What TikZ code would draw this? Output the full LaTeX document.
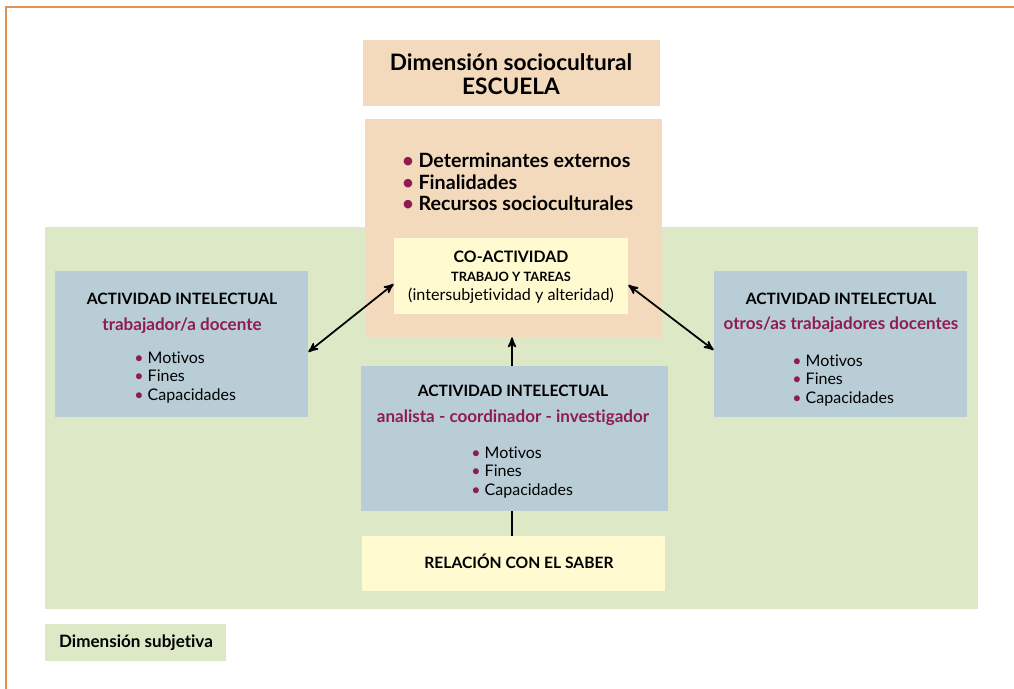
\documentclass[tikz,border=0pt]{standalone}
\usepackage{fontspec}
\setmainfont{Lato}[Ligatures=NoCommon]
\usetikzlibrary{arrows}
\definecolor{peach}{HTML}{F3DABD}
\definecolor{leaf}{HTML}{DDE9C6}
\definecolor{steel}{HTML}{B9CDD6}
\definecolor{cream}{HTML}{FFFAD0}
\definecolor{plum}{HTML}{8E1C53}
\definecolor{frame}{HTML}{E39250}
\newcommand{\bul}{\textcolor{plum}{\textbullet}~}
\tikzset{
    panel/.style={inner sep=0pt,anchor=center},
    size/.style n args={2}{minimum width={#1*0.02cm},minimum height={#2*0.02cm}},
    label/.style={inner sep=0pt,anchor=base},
    heading/.style={label,font=\fontsize{8.9}{10}\selectfont\bfseries},
    subhead/.style={label,font=\fontsize{9.7}{11}\selectfont\bfseries,text=plum},
    items/.style={anchor=north west,inner sep=0pt,align=left,font=\fontsize{9.1}{10.5}\selectfont},
    link/.style={<->,>=stealth',line width=1pt,black},
    uplink/.style={->,>=stealth',line width=1pt,black}
}
\begin{document}
\begin{tikzpicture}[x=0.02cm,y=-0.02cm]
\useasboundingbox (0,0) rectangle (1014,689);
% frame
\draw[frame,line width=1.1pt](1014,7)--(6,7)--(6,689);
% dimensions
\node[panel,fill=leaf,size={933}{382}](subj) at (511.5,418){};
\node[panel,fill=peach,size={297}{66}](escuela) at (511.5,73){};
\node[label,font=\fontsize{12.9}{14}\selectfont\bfseries](escuela1) at (511,71){Dimensión sociocultural};
\node[label,font=\fontsize{12.9}{14}\selectfont\bfseries](escuela2) at (511,95){ESCUELA};
\node[panel,fill=peach,size={297}{218}](socio) at (513.5,228){};
\node[items,font=\fontsize{11.2}{12.2}\selectfont\bfseries](fines) at (402,152.8){\bul Determinantes externos\\\bul Finalidades\\\bul Recursos socioculturales};
\node[panel,fill=cream,size={234}{76}](coact) at (511,276){};
\node[label,font=\fontsize{9}{10}\selectfont\bfseries](coact1) at (511,262){CO-ACTIVIDAD};
\node[label,font=\fontsize{7.3}{9}\selectfont\bfseries](coact2) at (511,281){TRABAJO Y TAREAS};
\node[label,font=\fontsize{9.2}{11}\selectfont](coact3) at (511,300){(intersubjetividad y alteridad)};
% actividades
\node[panel,fill=steel,size={253}{146}](docente) at (181.5,344){};
\node[heading](docente1) at (182,304){ACTIVIDAD INTELECTUAL};
\node[subhead](docente2) at (182,330){trabajador/a docente};
\node[items](docente3) at (134,351.4){\bul Motivos\\\bul Fines\\\bul Capacidades};
\node[panel,fill=steel,size={253}{146}](otros) at (840.5,344){};
\node[heading](otros1) at (841,304){ACTIVIDAD INTELECTUAL};
\node[subhead](otros2) at (841,329){otros/as trabajadores docentes};
\node[items](otros3) at (792,354.4){\bul Motivos\\\bul Fines\\\bul Capacidades};
\node[panel,fill=steel,size={307}{145}](analista) at (514.5,438.5){};
\node[heading](analista1) at (513,396){ACTIVIDAD INTELECTUAL};
\node[subhead](analista2) at (513,422){analista - coordinador - investigador};
\node[items](analista3) at (471,446.4){\bul Motivos\\\bul Fines\\\bul Capacidades};
\node[panel,fill=cream,size={303}{55}](saber) at (513.5,563.5){};
\node[heading](saber1) at (519,568.5){RELACIÓN CON EL SABER};
\node[panel,fill=leaf,size={181}{37}](subjetiva) at (135.5,642.5){};
\node[heading,font=\fontsize{9.7}{11}\selectfont\bfseries](subjetiva1) at (136,647){Dimensión subjetiva};
% conexiones
\draw[link](docente.east|-0,352)--(coact.west|-0,284);
\draw[link](otros.west|-0,350)--(coact.east|-0,285);
\draw[uplink](analista.north-|512,0)--(socio.south-|512,0);
\draw[line width=1pt](saber.north-|512,0)--(analista.south-|512,0);
\end{tikzpicture}
\end{document}
